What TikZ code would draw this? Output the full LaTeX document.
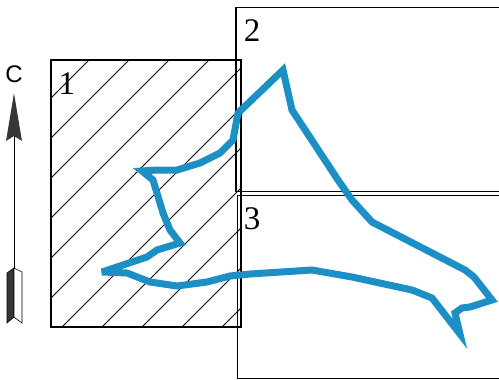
\documentclass[tikz,border=0pt]{standalone}
\usepackage{fontspec}
\setmainfont{Liberation Serif}
\setsansfont{Liberation Sans}
\usetikzlibrary{positioning}

\definecolor{traceblue}{RGB}{28,143,196}
\definecolor{quiver}{RGB}{55,55,55}

\begin{document}
\begin{tikzpicture}[
    x=1pt, y=-1pt,
    zone/.style={draw, line width=1.2pt, anchor=north west, inner sep=0pt},
    hatch/.style={line width=0.8pt},
    zonelabel/.style={font=\fontsize{33}{33}\selectfont, inner sep=0pt},
    trace/.style={draw=traceblue, line width=7pt, line join=miter, miter limit=5}
]
\useasboundingbox (0,0) rectangle (499,380);

% zones
\node[zone, minimum width=189pt, minimum height=266pt] (zone1) at (51,60) {};
\node[zone, minimum width=280pt, minimum height=184pt] (zone2) at (236,7) {};
\node[zone, minimum width=280pt, minimum height=183pt] (zone3) at (237,195) {};

\begin{scope}
    \clip (zone1.south west) rectangle (zone1.north east);
    \foreach \c in {149,189,...,549}
        \draw[hatch] (\c,0) -- ++(-400,400);
\end{scope}
\draw[line width=1.2pt] (zone1.south west) rectangle (zone1.north east);
\draw[line width=1.2pt] (zone2.north west) -- (zone2.south west);

\node[zonelabel] (lab1) at (67,84) {1};
\node[zonelabel] (lab2) at (252,31) {2};
\node[zonelabel] (lab3) at (252,219) {3};

% trajectory
\draw[trace] (102,272) -- (127,273) -- (150,282) -- (177,286) -- (207,282)
    -- (230,276) -- (250,274) -- (312,270) -- (352,277) -- (412,290)
    -- (432,298) -- (460,334) -- (455,313) -- (462,308) -- (470,307)
    -- (492,300) -- (474,277) -- (465,270) -- (372,222) -- (352,200)
    -- (338,180) -- (292,110) -- (283,70) -- (238,113) -- (233,140)
    -- (220,153) -- (200,163) -- (177,170) -- (157,170) -- (142,171)
    -- (153,180) -- (163,213) -- (170,230) -- (180,243) -- (157,250)
    -- (147,257) -- cycle;

% direction arrow
\node[font=\sffamily\fontsize{24}{24}\selectfont, inner sep=0pt] (dir) at (14,74) {C};
\draw[line width=1pt] (14,136) -- (14,270);
\fill[quiver] (14,93) -- (22,141) -- (14,136) -- (6,141) -- cycle;
\filldraw[fill=quiver, draw=black, line width=0.6pt]
    (7,273) -- (14,268) -- (14,317) -- (7,323) -- cycle;
\filldraw[fill=white, draw=black, line width=0.6pt]
    (14,268) -- (22,272) -- (22,323) -- (14,317) -- cycle;
\end{tikzpicture}
\end{document}
